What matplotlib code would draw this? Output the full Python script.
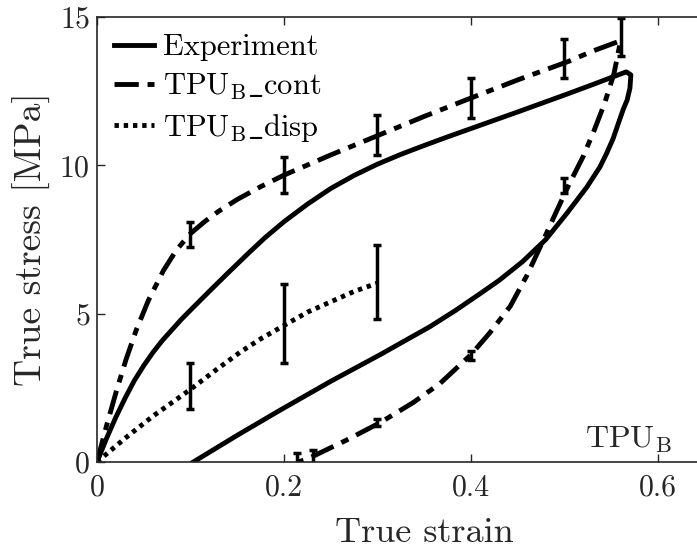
import matplotlib
matplotlib.use("Agg")
import matplotlib.pyplot as plt

plt.rcParams["font.family"] = "serif"
plt.rcParams["font.serif"] = ["cmr10"]
plt.rcParams["mathtext.fontset"] = "cm"
plt.rcParams["axes.formatter.use_mathtext"] = True

# Experiment: loading then unloading (one loop)
exp_strain = [0, 0.01, 0.02, 0.03, 0.04, 0.05, 0.06, 0.07, 0.08, 0.09, 0.10, 0.12,
              0.14, 0.164, 0.18, 0.20, 0.225, 0.25, 0.275, 0.30, 0.325, 0.35, 0.375,
              0.40, 0.45, 0.50, 0.53, 0.555, 0.566, 0.571,
              0.570, 0.567, 0.563, 0.558, 0.552, 0.545, 0.538, 0.524, 0.503, 0.48,
              0.455, 0.43, 0.41, 0.383, 0.356, 0.33, 0.303, 0.25, 0.196, 0.15, 0.103]
exp_stress = [0, 0.78, 1.5, 2.15, 2.75, 3.25, 3.7, 4.1, 4.45, 4.8, 5.12, 5.75,
              6.37, 7.1, 7.57, 8.1, 8.69, 9.22, 9.66, 10.04, 10.37, 10.67, 10.96,
              11.24, 11.8, 12.37, 12.72, 13.02, 13.15, 13.05,
              12.6, 12.2, 11.9, 11.45, 10.9, 10.4, 9.95, 9.27, 8.4, 7.5,
              6.75, 6.12, 5.68, 5.1, 4.56, 4.1, 3.62, 2.72, 1.75, 0.9, 0]

# TPU_B_cont model
cont_strain = [0, 0.01, 0.021, 0.031, 0.042, 0.055, 0.071, 0.085, 0.10, 0.115, 0.13,
               0.15, 0.175, 0.20, 0.25, 0.30, 0.35, 0.40, 0.45, 0.504, 0.53, 0.56,
               0.553, 0.543, 0.532, 0.52, 0.504, 0.49, 0.477, 0.46, 0.442, 0.42,
               0.40, 0.367, 0.338, 0.303, 0.267, 0.24, 0.225, 0.215]
cont_stress = [0, 1.2, 2.42, 3.45, 4.45, 5.45, 6.45, 7.15, 7.7, 8.1, 8.45,
               8.85, 9.28, 9.67, 10.35, 11.0, 11.65, 12.27, 12.88, 13.5, 13.85, 14.2,
               13.1, 12.1, 11.2, 10.3, 9.3, 8.35, 7.45, 6.3, 5.25, 4.35,
               3.62, 2.65, 2.0, 1.33, 0.74, 0.33, 0.1, 0]
cont_bar_x = [0.1, 0.2, 0.3, 0.4, 0.5, 0.56, 0.5, 0.4, 0.3, 0.231, 0.214]
cont_bar_y = [7.7, 9.67, 11.0, 12.27, 13.5, 14.2, 9.3, 3.6, 1.33, 0.15, 0]
cont_bar_lo = [7.26, 9.08, 10.35, 11.6, 12.94, 13.7, 9.07, 3.45, 1.2, -0.2, -0.3]
cont_bar_hi = [8.1, 10.28, 11.7, 12.94, 14.26, 14.96, 9.57, 3.75, 1.46, 0.4, 0.3]

# TPU_B_disp model
disp_strain = [0, 0.03, 0.06, 0.089, 0.1, 0.125, 0.153, 0.175, 0.201, 0.225, 0.25,
               0.275, 0.3]
disp_stress = [0, 0.8, 1.55, 2.2, 2.45, 3.05, 3.7, 4.15, 4.62, 5.05, 5.4,
               5.75, 6.03]
disp_bar_x = [0.1, 0.2, 0.3]
disp_bar_y = [2.45, 4.62, 6.03]
disp_bar_lo = [1.78, 3.35, 4.81]
disp_bar_hi = [3.33, 6.0, 7.31]

fig = plt.figure(figsize=(6.97, 5.52), dpi=100)
ax = fig.add_axes([97 / 697, 90 / 552, 0.939, 445 / 552])

lw = 3.5
ax.plot(exp_strain, exp_stress, "-", color="k", lw=lw, label="Experiment")
ax.plot(cont_strain, cont_stress, color="k", lw=lw, linestyle=(0, (5, 1.8, 1.6, 1.8)),
        label=r"TPU$_\mathrm{B}\_$cont")
ax.plot(disp_strain, disp_stress, color="k", lw=lw, linestyle=(0, (0.9, 1.0)),
        label=r"TPU$_\mathrm{B}\_$disp")

for bx, by, blo, bhi in [(cont_bar_x, cont_bar_y, cont_bar_lo, cont_bar_hi),
                         (disp_bar_x, disp_bar_y, disp_bar_lo, disp_bar_hi)]:
    yerr = [[y - l for y, l in zip(by, blo)], [h - y for y, h in zip(by, bhi)]]
    ax.errorbar(bx, by, yerr=yerr, fmt="none", ecolor="k", elinewidth=2.5,
                capsize=3, capthick=2.5)

ax.set_xlim(0, 0.7)
ax.set_ylim(0, 15)
ax.set_xticks([0, 0.2, 0.4, 0.6])
ax.set_xticklabels(["0", "0.2", "0.4", "0.6"])
ax.set_yticks([0, 5, 10, 15])
ax.tick_params(direction="in", length=6, width=1, colors="#262626", labelsize=21.5,
               top=True, right=True, labelcolor="#262626")
ax.tick_params(axis="x", pad=9)
ax.tick_params(axis="y", pad=5)
for s in ax.spines.values():
    s.set_linewidth(1.2)
    s.set_color("#262626")

ax.set_xlabel("True strain", fontsize=26, color="#262626", labelpad=11)
ax.set_ylabel("True stress [MPa]", fontsize=27, color="#262626", labelpad=6)
ax.text(0.522, 0.5, r"TPU$_\mathrm{B}$", fontsize=23, color="#262626")

ax.legend(loc="upper left", frameon=False, fontsize=22, handlelength=1.3,
          handletextpad=0.3, labelspacing=0.33, borderpad=0.2, borderaxespad=0.35)

fig.savefig("out.png", dpi=100)
